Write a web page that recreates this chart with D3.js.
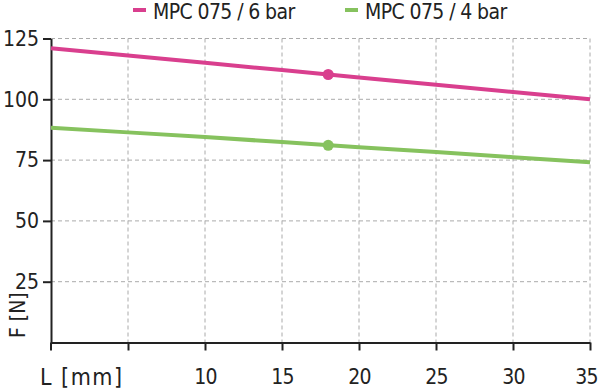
<!DOCTYPE html>
<html>
<head>
<meta charset="utf-8">
<script src="https://cdn.jsdelivr.net/npm/d3@7"></script>
<style>
  body { margin: 0; background: #fff; }
  text { font-family: "DejaVu Sans Condensed", "DejaVu Sans", sans-serif; font-stretch: condensed; fill: #222; }
</style>
</head>
<body>
<div id="chart"></div>
<script>
var svgWidth = 600;
var svgHeight = 389;

var margin = { top: 38.5, right: 10, bottom: 46.5, left: 51 };
var width = 590 - margin.left;
var height = 342.5 - margin.top;

// data
var lengths = [0, 5, 10, 15, 20, 25, 30, 35];
var force6bar = [121.0, 118.0, 115.0, 112.0, 109.0, 106.0, 103.0, 100.0];
var force4bar = [88.3, 86.4, 84.5, 82.4, 80.3, 78.3, 76.2, 74.1];
var markerL = 18;
var marker6bar = 110.2;
var marker4bar = 81.1;
var seriesNames = ["MPC 075 / 6 bar", "MPC 075 / 4 bar"];
var seriesColors = ["#d93f8e", "#86c25e"];
var xTicks = [5, 10, 15, 20, 25, 30, 35];
var xLabels = ["", "10", "15", "20", "25", "30", "35"];
var yTicks = [25, 50, 75, 100, 125];

var svg = d3.select("#chart")
  .append("svg")
  .attr("width", svgWidth)
  .attr("height", svgHeight);

var chartGroup = svg.append("g")
  .attr("transform", `translate(${margin.left}, ${margin.top})`);

var xScale = d3.scaleLinear().domain([0, 35]).range([0, width]);
var yScale = d3.scaleLinear().domain([0, 125]).range([height, 0]);

// grid
chartGroup.append("g")
  .selectAll("line.vg")
  .data(xTicks)
  .enter()
  .append("line")
  .attr("x1", d => xScale(d)).attr("x2", d => xScale(d))
  .attr("y1", 0).attr("y2", height)
  .attr("stroke", "#aaa").attr("stroke-width", 1).attr("stroke-dasharray", "4,3");

chartGroup.append("g")
  .selectAll("line.hg")
  .data(yTicks)
  .enter()
  .append("line")
  .attr("x1", 0).attr("x2", width)
  .attr("y1", d => yScale(d)).attr("y2", d => yScale(d))
  .attr("stroke", "#aaa").attr("stroke-width", 1).attr("stroke-dasharray", "4,3");

// axes
var bottomAxis = d3.axisBottom(xScale).tickValues(xTicks)
  .tickFormat((d, i) => xLabels[i])
  .tickSize(8).tickSizeOuter(0).tickPadding(16);
var leftAxis = d3.axisLeft(yScale).tickValues(yTicks).tickSize(8).tickSizeOuter(0).tickPadding(4);

var xAxisG = chartGroup.append("g")
  .attr("transform", `translate(0, ${height})`)
  .call(bottomAxis);

var yAxisG = chartGroup.append("g")
  .call(leftAxis);

[xAxisG, yAxisG].forEach(function(g) {
  g.select(".domain").attr("stroke", "#222").attr("stroke-width", 2);
  g.selectAll(".tick line").attr("stroke", "#222").attr("stroke-width", 2);
  g.selectAll(".tick text").attr("font-size", "21px").attr("fill", "#222")
    .attr("font-family", "DejaVu Sans Condensed, DejaVu Sans, sans-serif");
});
xAxisG.selectAll(".tick text").attr("dy", "0.85em").attr("letter-spacing", "-0.8");
// keep the last label inside the window
xAxisG.selectAll(".tick text").filter(d => d === 35).attr("x", -4);
// zero tick mark on x axis
xAxisG.append("line")
  .attr("x1", 0).attr("x2", 0).attr("y1", 0).attr("y2", 8)
  .attr("stroke", "#222").attr("stroke-width", 2);

// lines
var lineGen = d3.line()
  .x((d, i) => xScale(lengths[i]))
  .y(d => yScale(d));

[force6bar, force4bar].forEach(function(series, k) {
  chartGroup.append("path")
    .datum(series)
    .attr("d", lineGen)
    .attr("fill", "none")
    .attr("stroke", seriesColors[k])
    .attr("stroke-width", 4);
});

chartGroup.selectAll("circle.marker")
  .data([marker6bar, marker4bar])
  .enter()
  .append("circle")
  .attr("cx", xScale(markerL))
  .attr("cy", d => yScale(d))
  .attr("r", 5.5)
  .attr("fill", (d, i) => seriesColors[i]);

// legend
var legendX = [133, 345];
seriesNames.forEach(function(name, i) {
  svg.append("line")
    .attr("x1", legendX[i]).attr("x2", legendX[i] + 13)
    .attr("y1", 10).attr("y2", 10)
    .attr("stroke", seriesColors[i]).attr("stroke-width", 4);
  svg.append("text")
    .attr("x", legendX[i] + 20)
    .attr("y", 19)
    .attr("font-size", "21px")
    .attr("letter-spacing", "-0.6")
    .text(name);
});

// axis labels
svg.append("text")
  .attr("x", 40)
  .attr("y", 385)
  .attr("font-size", "23px")
  .attr("letter-spacing", "1.5")
  .text("L [mm]");

svg.append("text")
  .attr("transform", "translate(25, 338) rotate(-90)")
  .attr("font-size", "21px")
  .text("F [N]");
</script>
</body>
</html>
